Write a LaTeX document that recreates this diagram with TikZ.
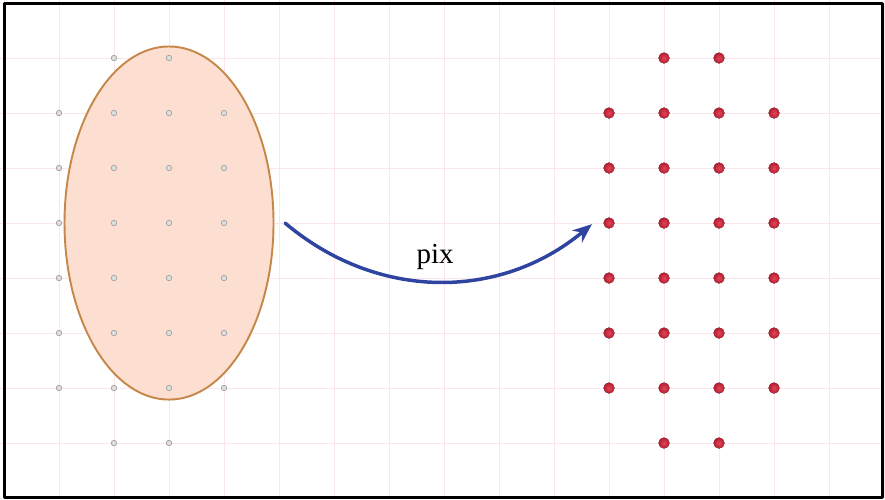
\documentclass[tikz,border=0pt]{standalone}
\usepackage{fontspec}
\setmainfont{Liberation Serif}
\usetikzlibrary{arrows.meta}
\definecolor{gridpink}{RGB}{252,230,236}
\definecolor{blobfill}{RGB}{253,223,209}
\definecolor{blobedge}{RGB}{198,136,74}
\definecolor{mapblue}{RGB}{46,68,160}
\definecolor{pixred}{RGB}{226,70,88}
\definecolor{pixdark}{RGB}{180,28,48}
\tikzset{
  srcdot/.style={fill=gray!25, draw=gray!70, line width=0.4pt},
  pixdot/.style={inner color=pixred, outer color=pixdark},
  maparrow/.style={draw=mapblue, line width=1.8pt, -{Stealth[length=10pt,width=8pt]}},
}
\begin{document}
\begin{tikzpicture}[line cap=round, line join=round]
\useasboundingbox (-0.073,-0.018) rectangle (16.018,9.055);
\draw[gridpink, line width=0.3pt] (-0.07,-0.01) grid (16.01,9.05);
% source region
\draw[blobedge, fill=blobfill, line width=1pt] (3,5) ellipse [x radius=1.9, y radius=3.21];
\foreach \x in {2,3} \foreach \y in {1,8} \draw[srcdot] (\x,\y) circle (0.05);
\foreach \x in {1,...,4} \foreach \y in {2,...,7} \draw[srcdot] (\x,\y) circle (0.05);
% pixel grid
\foreach \x in {12,13} \foreach \y in {1,8} \fill[pixdot] (\x,\y) circle (0.1);
\foreach \x in {11,...,14} \foreach \y in {2,...,7} \fill[pixdot] (\x,\y) circle (0.1);
% map
\coordinate (src) at (5.11,5);
\coordinate (dst) at (10.69,4.98);
\draw[maparrow] (src) to[bend right=40] node[pos=0.49, above=0.07cm, font=\fontsize{15}{17}\selectfont] (lbl) {pix} (dst);
\draw[line width=1.55pt] (0.01,0.01) rectangle (15.97,8.99);
\end{tikzpicture}
\end{document}
